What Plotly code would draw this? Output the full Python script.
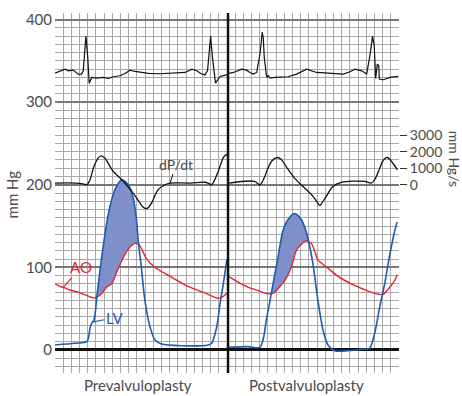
import plotly.graph_objects as go

# ---- data (time in ms, pressure in mmHg, dP/dt in mmHg/s) ----
ecg_t = [0, 24, 49, 65, 89, 114, 130, 138, 151, 160, 167, 179, 204, 236, 260, 285, 317, 342, 366, 391,
         423, 456, 513, 586, 635, 669, 693, 713, 732, 745, 760, 769, 784, 806, 825, 845,
         846, 871, 912, 936, 952, 968, 985, 1001, 1012, 1017, 1022, 1034, 1042, 1050, 1074, 1107, 1139,
         1180, 1229, 1278, 1343, 1408, 1440, 1465, 1498, 1522, 1538, 1551, 1559, 1566, 1574, 1581, 1584,
         1603, 1636, 1676]
ecg_v = [335.2, 337.2, 340, 338, 338.8, 334, 334, 338, 380, 354, 322.8, 330, 329.2, 330, 328.8, 330.8, 332, 334.8, 338.8, 337.2,
         336, 334.8, 334.4, 335, 336, 340, 338, 334.4, 333, 338.4, 380, 354, 323, 331.2, 332.4, 333.6,
         334.8, 336, 340, 338.8, 336, 334, 336, 358, 385, 378, 354, 330, 332, 329.2, 330, 330, 330.8,
         334, 340, 336, 334.8, 334, 336.8, 340, 338, 334, 356.4, 380, 368.4, 328.8, 346, 344.4, 328,
         327.2, 330, 331.2]

dpdt_pre_t = [0, 98, 137, 155, 171, 190, 210, 225, 244, 269, 285, 326, 375, 415, 430, 443, 454, 472, 504,
              537, 562, 659, 732, 747, 765, 776, 797, 811, 825, 843]
dpdt_pre_v = [100, 100, 50, 0, 300, 1100, 1600, 1750, 1600, 1100, 800, 300, -400, -1100, -1350, -1450, -1400,
              -1100, -300, 0, 100, 100, 150, 100, 0, 200, 800, 1300, 1700, 1850]
dpdt_post_t = [847, 975, 1000, 1021, 1040, 1060, 1086, 1104, 1129, 1170, 1219, 1260, 1280, 1293, 1304, 1325,
               1357, 1398, 1512, 1545, 1563, 1586, 1604, 1623, 1650, 1672]
dpdt_post_v = [100, 200, 0, 400, 1000, 1450, 1650, 1550, 1100, 400, -200, -700, -1050, -1250, -1100, -700,
               -100, 150, 200, 100, 350, 1000, 1500, 1650, 1300, 900]

lv_pre_t = [0, 98, 155, 163, 171, 179, 190, 198, 204, 212, 228, 260, 293, 326, 358, 382, 396, 408, 420, 439,
            464, 488, 521, 619, 749, 765, 790, 806, 822, 840]
lv_pre_v = [6, 8, 10, 14, 26, 32, 36, 48, 64, 80, 112, 164, 194, 206, 200, 184, 162, 128, 104, 60,
            28, 12, 7, 5, 6, 8, 28, 56, 80, 110]
ao_pre_t = [0, 24, 49, 73, 114, 163, 186, 204, 228, 252, 277, 301, 326, 358, 391, 408, 415, 431, 448, 488,
            562, 649, 732, 796, 820, 840]
ao_pre_v = [80, 77, 75, 72.5, 70, 65, 63, 64, 68, 76, 80, 94, 108, 122, 129, 128, 126, 118, 110, 100,
            89, 77, 69, 62.5, 64.5, 69]

lv_post_t = [847, 942, 1000, 1016, 1032, 1048, 1056, 1089, 1113, 1138, 1170, 1203, 1223, 1239, 1260, 1284,
             1309, 1333, 1366, 1431, 1512, 1537, 1561, 1586, 1610, 1634, 1659, 1671]
lv_post_v = [3, 4, 3, 12, 36, 57, 68, 112, 144, 158, 165, 158, 146, 131, 104, 60,
             24, 6, -1, -1, 1, 2, 20, 52, 80, 114, 144, 155]
ao_post_t = [847, 894, 942, 991, 1030, 1056, 1074, 1089, 1122, 1154, 1178, 1203, 1227, 1239, 1252, 1268,
             1284, 1333, 1382, 1447, 1512, 1561, 1602, 1618, 1642, 1659, 1671]
ao_post_v = [89, 82, 76, 72, 68.5, 68, 70, 74, 84, 100, 120, 128, 132, 131, 129, 120,
             109, 99, 89, 80, 73, 68.5, 67, 71, 78, 84, 91]

# ejection windows (start, end) in ms
eject_pre = (204, 408)
eject_post = (1056, 1239)

y_ticks = [0, 100, 200, 300, 400]
y2_ticks = [0, 1000, 2000, 3000]
panel_labels = ["Prevalvuloplasty", "Postvalvuloplasty"]
divider_t = 845

LV_C = "#1c5db0"
AO_C = "#e8232d"
FILL_C = "rgb(126,143,201)"
TXT = "#4a4a4a"
FONT = "Lato"

fig = go.Figure()


def window(ts, vs, w):
    pts = [(t, v) for t, v in zip(ts, vs) if w[0] <= t <= w[1]]
    return [p[0] for p in pts], [p[1] for p in pts]


for (lt, lv, at, av, w) in [(lv_pre_t, lv_pre_v, ao_pre_t, ao_pre_v, eject_pre),
                           (lv_post_t, lv_post_v, ao_post_t, ao_post_v, eject_post)]:
    ax_, ay_ = window(at, av, w)
    lx_, ly_ = window(lt, lv, w)
    fig.add_trace(go.Scatter(x=ax_, y=ay_, mode="lines", line=dict(width=0, shape="spline", smoothing=0.8),
                             hoverinfo="skip"))
    fig.add_trace(go.Scatter(x=lx_, y=ly_, mode="lines", fill="tonexty", fillcolor=FILL_C,
                             line=dict(width=0, shape="spline", smoothing=0.8), hoverinfo="skip"))

for t, v in [(ao_pre_t, ao_pre_v), (ao_post_t, ao_post_v)]:
    fig.add_trace(go.Scatter(x=t, y=v, mode="lines", line=dict(color=AO_C, width=1.4, shape="spline", smoothing=0.8)))
for t, v in [(lv_pre_t, lv_pre_v), (lv_post_t, lv_post_v)]:
    fig.add_trace(go.Scatter(x=t, y=v, mode="lines", line=dict(color=LV_C, width=1.6, shape="spline", smoothing=0.8)))
for t, v in [(dpdt_pre_t, dpdt_pre_v), (dpdt_post_t, dpdt_post_v)]:
    fig.add_trace(go.Scatter(x=t, y=v, yaxis="y2", mode="lines",
                             line=dict(color="#111111", width=1.3, shape="spline", smoothing=1)))
fig.add_trace(go.Scatter(x=ecg_t, y=ecg_v, mode="lines", line=dict(color="#111111", width=1.2)))

fig.add_shape(type="line", x0=divider_t, x1=divider_t, y0=0, y1=1, xref="x", yref="paper",
              line=dict(color="#111111", width=2.5))

annos = [
    dict(x=41, y=76, xref="x", yref="y", text="AO", showarrow=True, arrowhead=0, arrowwidth=1.2,
         arrowcolor=AO_C, ax=18, ay=-20, font=dict(color=AO_C, size=15, family=FONT)),
    dict(x=187, y=34, xref="x", yref="y", text="LV", showarrow=True, arrowhead=0, arrowwidth=1.2,
         arrowcolor=LV_C, ax=21, ay=-4, font=dict(color=LV_C, size=15, family=FONT)),
    dict(x=562, y=100, xref="x", yref="y2", text="dP/dt", showarrow=True, arrowhead=0, arrowwidth=1,
         arrowcolor="#111", ax=6, ay=-19, font=dict(color=TXT, size=14, family=FONT)),
    dict(x=-0.125, y=0.496, xref="paper", yref="paper", text="mm Hg", showarrow=False, textangle=-90,
         xanchor="center", yanchor="middle", font=dict(color=TXT, size=15, family=FONT)),
    dict(x=(454 - 55) / 344, y=0.595, xref="paper", yref="paper", text="mm Hg/s", showarrow=False, textangle=90,
         xanchor="center", yanchor="middle", font=dict(color=TXT, size=14, family=FONT)),
    dict(x=(138 - 55) / 344, y=-0.033, xref="paper", yref="paper", text=panel_labels[0], showarrow=False,
         xanchor="center", yanchor="middle", font=dict(color=TXT, size=15, family=FONT)),
    dict(x=(306 - 55) / 344, y=-0.033, xref="paper", yref="paper", text=panel_labels[1], showarrow=False,
         xanchor="center", yanchor="middle", font=dict(color=TXT, size=15, family=FONT)),
]

fig.update_layout(
    width=462, height=396, margin=dict(l=55, r=63, t=10, b=23),
    paper_bgcolor="white", plot_bgcolor="white", showlegend=False,
    annotations=annos,
    xaxis=dict(range=[0, 1680], tick0=0, dtick=40, showgrid=True, gridcolor="#a8a8a8", gridwidth=1,
               showticklabels=False, zeroline=False, showline=False, ticks=""),
    yaxis=dict(range=[-28, 408], tickvals=y_ticks, showgrid=True, gridcolor="#777777", gridwidth=1.5,
               minor=dict(tick0=0, dtick=10, showgrid=True, gridcolor="#a8a8a8", gridwidth=1),
               zeroline=True, zerolinecolor="#111111", zerolinewidth=2.5, ticks="",
               tickfont=dict(color=TXT, size=15, family=FONT), ticklabelstandoff=2),
    yaxis2=dict(range=[(-28 - 200) * 50, (408 - 200) * 50], overlaying="y", side="right",
                tickvals=y2_ticks, ticks="outside", ticklen=7, tickcolor="#333", tickwidth=1,
                showgrid=False, zeroline=False, showline=False, ticklabelstandoff=0,
                tickfont=dict(color=TXT, size=14, family=FONT)),
)

fig.write_html("out.html", config={"displayModeBar": False},
               post_script="document.body.style.margin='0';")
